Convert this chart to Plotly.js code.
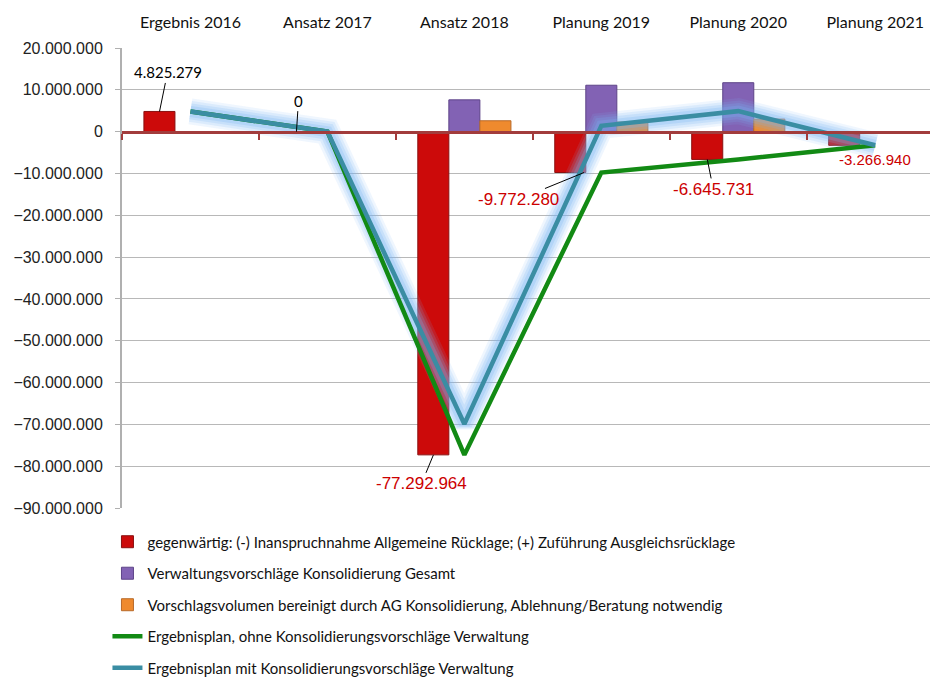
<!DOCTYPE html>
<html><head><meta charset="utf-8">
<script src="https://cdn.plot.ly/plotly-3.0.1.min.js"></script>
<style>html,body{margin:0;padding:0;background:#fff}#chart{width:930px;height:680px}</style>
</head><body><div id="chart"></div>
<script>
const categories = ['Ergebnis 2016','Ansatz 2017','Ansatz 2018','Planung 2019','Planung 2020','Planung 2021'];
const gegenwaertig = [4825279, 0, -77292964, -9772280, -6645731, -3266940];
const verwaltungsvorschlaege = [0, 0, 7600000, 11100000, 11700000, 0];
const vorschlagsvolumen = [0, 0, 2600000, 2300000, 3000000, 0];
const ohneKonsolidierung = [4825279, 0, -77292964, -9772280, -6645731, -3266940];
const mitKonsolidierung = [4825279, 0, -69900000, 1400000, 4900000, -3266940];
const seriesNames = [
  'gegenwärtig: (-) Inanspruchnahme Allgemeine Rücklage; (+) Zuführung Ausgleichsrücklage',
  'Verwaltungsvorschläge Konsolidierung Gesamt',
  'Vorschlagsvolumen bereinigt durch AG Konsolidierung, Ablehnung/Beratung notwendig',
  'Ergebnisplan, ohne Konsolidierungsvorschläge Verwaltung',
  'Ergebnisplan mit Konsolidierungsvorschläge Verwaltung'
];
const yTicks = [20000000,10000000,0,-10000000,-20000000,-30000000,-40000000,-50000000,-60000000,-70000000,-80000000,-90000000];
const boundaryTicks = [-0.5,0.5,1.5,2.5,3.5,4.5];

const calibri = 'Lato, "Open Sans", sans-serif';
const arial = '"Liberation Sans", Arial, sans-serif';

const glow = (w, a) => ({type:'scatter', mode:'lines', x:categories, y:mitKonsolidierung, showlegend:false,
  hoverinfo:'skip', line:{color:'rgba(120,180,245,' + a + ')', width:w}});

const traces = [
  {type:'bar', name:seriesNames[0], x:categories, y:gegenwaertig, legendgroup:'a',
   marker:{color:'#cc0a0a', line:{color:'#8a1010', width:1}}},
  {type:'bar', name:seriesNames[1], x:categories, y:verwaltungsvorschlaege, legendgroup:'b',
   marker:{color:'#8262b4', line:{color:'#5e4488', width:1}}},
  {type:'bar', name:seriesNames[2], x:categories, y:vorschlagsvolumen, legendgroup:'c',
   marker:{color:'#ef8a2e', line:{color:'#b86a2a', width:1}}},
  glow(26, 0.12), glow(21, 0.16), glow(16, 0.2), glow(11, 0.25),
  {type:'scatter', mode:'lines', name:seriesNames[3], x:categories, y:ohneKonsolidierung, legendgroup:'d',
   line:{color:'#128a14', width:4.5}},
  {type:'scatter', mode:'lines', name:seriesNames[4], x:categories, y:mitKonsolidierung, legendgroup:'e',
   line:{color:'#3a8da3', width:4.5}},
  {type:'scatter', mode:'markers', x:[0], y:[0], xaxis:'x2', showlegend:false, hoverinfo:'skip',
   marker:{opacity:0}}
];

function ann(i, off, val, txt, ax, ay, color, size, arrow){
  return {x:i+off, y:val, xref:'x', yref:'y', text:txt, showarrow:arrow, ax:ax, ay:ay,
    arrowhead:0, arrowwidth:1, arrowcolor:'#000', standoff:0, startstandoff:0,
    font:{family: color==='#000' ? calibri : arial, size:size, color:color}};
}
const off = -0.226;
const annotations = [
  ann(0, off, gegenwaertig[0], '4.825.279', 8, -39, '#000', 15, true),
  ann(1, off, gegenwaertig[1], '0', 2, -31, '#000', 15, true),
  ann(2, off, gegenwaertig[2], '-77.292.964', -12, 29, '#cc0000', 17, true),
  ann(3, off+0.1, gegenwaertig[3], '-9.772.280', -66, 27, '#cc0000', 17, true),
  ann(4, off, gegenwaertig[4], '-6.645.731', 6, 30, '#cc0000', 17, true),
  Object.assign(ann(5, 0, gegenwaertig[5], '-3.266.940', 0, 0, '#cc0000', 15, false), {yshift:-14})
];

const layout = {
  width:930, height:680,
  margin:{l:122, r:0, t:48, b:172, autoexpand:false},
  paper_bgcolor:'#fff', plot_bgcolor:'#fff',
  separators:',.',
  barmode:'group', bargap:0.32, bargroupgap:0,
  showlegend:true,
  legend:{x:-0.018, xanchor:'left', y:-0.038, yanchor:'top', tracegroupgap:9,
    font:{family:calibri, size:15, color:'#111'}, bgcolor:'rgba(0,0,0,0)', itemwidth:30},
  xaxis:{type:'category', side:'top', range:[-0.5,5.4], showgrid:false, zeroline:false, showline:false,
    ticks:'', ticklabelstandoff:16, tickfont:{family:calibri, size:16, color:'#111'}, fixedrange:true},
  xaxis2:{type:'linear', overlaying:'x', anchor:'free', position:90/110, range:[-0.5,5.4],
    showline:true, linecolor:'#a23c3c', linewidth:3, ticks:'outside', tickvals:boundaryTicks,
    ticklen:6, tickwidth:2, tickcolor:'#a23c3c', showticklabels:false, showgrid:false, zeroline:false},
  yaxis:{range:[-90000000,20000000], tickvals:yTicks, tickformat:',d', showgrid:true, gridcolor:'#b8b8b8', gridwidth:1,
    zeroline:false, showline:true, linecolor:'#b0b0b0', linewidth:2, ticks:'outside', ticklen:5, tickcolor:'#b0b0b0',
    ticklabelstandoff:9, tickfont:{family:arial, size:16, color:'#222'}, fixedrange:true},
  annotations:annotations
};
Plotly.newPlot('chart', traces, layout, {displayModeBar:false, staticPlot:true});
</script></body></html>
